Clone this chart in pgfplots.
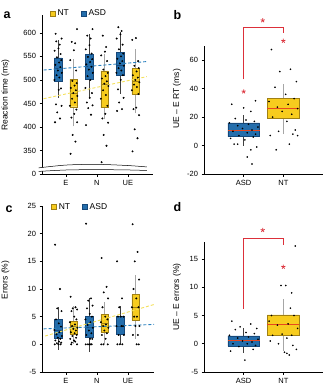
\documentclass[border=0pt]{standalone}
\usepackage{pgfplots}
\pgfplotsset{compat=1.18}
\usepackage{fontspec}
\setmainfont{Liberation Sans}
\definecolor{asd}{RGB}{36,110,172}
\definecolor{asdd}{RGB}{22,72,122}
\definecolor{nt}{RGB}{247,204,30}
\definecolor{ntd}{RGB}{160,128,20}
\definecolor{med}{RGB}{232,72,30}
\definecolor{sig}{RGB}{220,48,58}
\definecolor{asdl}{RGB}{40,128,190}
\definecolor{ntl}{RGB}{244,224,90}
\newcommand{\tfont}{\fontsize{7.5}{8.5}\selectfont}
\newcommand{\lfont}{\fontsize{8.5}{9.5}\selectfont}
\pgfplotsset{
  base/.style={scale only axis, axis lines=left, axis line style={-, line width=0.6pt},
    tick align=outside, major tick length=2.5pt, tick style={black, line width=0.5pt},
    ticklabel style={font=\tfont}, /pgf/number format/assume math mode=true,
    clip=false, anchor=south west},
  pts/.style={only marks, mark=*, mark size=0.75pt, black},
  ptsb/.style={only marks, mark=*, mark size=0.6pt, black},
  Abox/.style={fill=asd, draw=asdd, line width=0.4pt},
  Amed/.style={asdd, line width=0.5pt},
  Awh/.style={black!75, line width=0.6pt},
  Nbox/.style={fill=nt, draw=ntd, line width=0.4pt},
  Nmed/.style={ntd, line width=0.5pt},
  Nwh/.style={black!35, line width=1pt},
  Abbox/.style={fill=asd, draw=asdd, line width=0.5pt},
  Abmed/.style={med, line width=1pt},
  Abwh/.style={black!75, line width=0.6pt},
  Nbbox/.style={fill=nt, draw=ntd, line width=0.5pt},
  Nbmed/.style={med, line width=1pt},
  Nbwh/.style={black!35, line width=1pt},
  legsq/.style={legend image code/.code={\draw[##1, line width=0.4pt] (0pt,-2.6pt) rectangle (5.2pt,2.6pt);},
     legend style={draw=none, fill=none, legend columns=2, font=\lfont, inner sep=0pt,
       /tikz/every even column/.append style={column sep=10pt}}},
}
% #1 style prefix, #2 centre, #3 left, #4 right, #5 lower whisker, #6 Q1, #7 median, #8 Q3, #9 upper whisker
\newcommand{\bx}[9]{%
  \addplot[#1wh] coordinates {(#2,#5) (#2,#6)};
  \addplot[#1wh] coordinates {(#2,#8) (#2,#9)};
  \addplot[#1box] coordinates {(#3,#6) (#4,#6) (#4,#8) (#3,#8) (#3,#6)};
  \addplot[#1med] coordinates {(#3,#7) (#4,#7)};
}
\begin{document}
\begin{tikzpicture}
\path[use as bounding box] (0,0) rectangle (326pt,-387pt);

% ---------------- panel a ----------------
\begin{axis}[base, at={(42pt,-174pt)}, width=111pt, height=159pt,
  xmin=0.23, xmax=3.81, ymin=300, ymax=638,
  xtick={1,2,3}, xticklabels={E,N,UE},
  ytick={300,350,400,450,500,550,600}, yticklabels={0,350,400,450,500,550,600},
  legsq, legend style={at={(axis description cs:0.07,1.01)}, anchor=west}]
\addlegendimage{fill=nt, draw=ntd}
\addlegendimage{fill=asd, draw=asdd}
\legend{NT,ASD}
\bx{A}{0.75}{0.63}{0.87}{462}{498}{525}{547}{585}
\bx{N}{1.25}{1.13}{1.37}{401}{443}{472}{501}{544}
\bx{A}{1.75}{1.63}{1.87}{461}{502}{530}{554}{598}
\bx{N}{2.25}{2.13}{2.37}{416}{441}{490}{519}{556}
\bx{A}{2.75}{2.63}{2.87}{471}{510}{532}{558}{602}
\bx{N}{3.25}{3.13}{3.37}{429}{470}{497}{524}{565}
\addplot[asdl, line width=0.9pt, dash pattern=on 3pt off 2pt] coordinates {(0.28,521) (3.61,539)};
\addplot[ntl, line width=0.9pt, dash pattern=on 3pt off 2pt] coordinates {(0.28,460) (3.61,507)};
\addplot[pts] table[row sep=\\, x expr=0.75+\thisrow{j}, y=v] {j v\\ -0.10 410\\ 0.06 418\\ -0.03 431\\ 0.11 445\\ -0.07 448\\ 0.02 479\\ 0.09 482\\ -0.12 500\\ 0.04 505\\ -0.05 510\\ 0.12 515\\ -0.01 520\\ 0.07 527\\ -0.09 532\\ 0.03 537\\ 0.10 542\\ -0.04 548\\ 0.08 555\\ -0.11 562\\ 0.01 567\\ 0.05 575\\ -0.06 582\\ 0.11 588\\ -0.08 598\\};
\addplot[pts] table[row sep=\\, x expr=1.25+\thisrow{j}, y=v] {j v\\ -0.10 343\\ 0.06 369\\ -0.03 383\\ 0.11 410\\ -0.07 420\\ 0.02 428\\ 0.09 437\\ -0.12 445\\ 0.04 452\\ -0.05 460\\ 0.12 466\\ -0.01 472\\ 0.07 478\\ -0.09 483\\ 0.03 488\\ 0.10 493\\ -0.04 498\\ 0.08 520\\ -0.11 542\\ 0.01 563\\ 0.05 578\\ -0.06 581\\ 0.11 608\\};
\addplot[pts] table[row sep=\\, x expr=1.75+\thisrow{j}, y=v] {j v\\ -0.10 404\\ 0.06 426\\ -0.03 440\\ 0.11 446\\ -0.07 452\\ 0.02 462\\ 0.09 472\\ -0.12 483\\ 0.04 500\\ -0.05 508\\ 0.12 515\\ -0.01 522\\ 0.07 528\\ -0.09 533\\ 0.03 538\\ 0.10 544\\ -0.04 549\\ 0.08 556\\ -0.11 565\\ 0.01 574\\ 0.05 588\\ -0.06 594\\ 0.11 608\\};
\addplot[pts] table[row sep=\\, x expr=2.25+\thisrow{j}, y=v] {j v\\ -0.10 325\\ 0.06 360\\ -0.03 383\\ 0.11 409\\ -0.07 418\\ 0.02 428\\ 0.09 445\\ -0.12 460\\ 0.04 468\\ -0.05 478\\ 0.12 487\\ -0.01 492\\ 0.07 497\\ -0.09 503\\ 0.03 508\\ 0.10 515\\ -0.04 522\\ 0.08 540\\ -0.11 552\\ 0.01 560\\ 0.05 570\\ -0.06 594\\};
\addplot[pts] table[row sep=\\, x expr=2.75+\thisrow{j}, y=v] {j v\\ -0.10 434\\ 0.06 438\\ -0.03 452\\ 0.11 462\\ -0.07 480\\ 0.02 500\\ 0.09 510\\ -0.12 515\\ 0.04 520\\ -0.05 525\\ 0.12 530\\ -0.01 535\\ 0.07 540\\ -0.09 545\\ 0.03 550\\ 0.10 556\\ -0.04 565\\ 0.08 575\\ -0.11 588\\ 0.01 597\\ 0.05 604\\ -0.06 612\\};
\addplot[pts] table[row sep=\\, x expr=3.25+\thisrow{j}, y=v] {j v\\ -0.10 348\\ 0.06 376\\ -0.03 395\\ 0.11 425\\ -0.07 438\\ 0.02 441\\ 0.09 470\\ -0.12 478\\ 0.04 485\\ -0.05 490\\ 0.12 495\\ -0.01 500\\ 0.07 505\\ -0.09 510\\ 0.03 518\\ 0.10 525\\ -0.04 530\\ 0.08 540\\ -0.11 585\\ 0.01 589\\};
% axis break (decoration)
\addplot[fill=white, draw=none] coordinates {(0.12,313) (1.0,319) (2.0,320.5) (3.0,318) (3.61,315) (3.61,307.5) (3.0,308.6) (2.0,309.3) (1.0,308.5) (0.12,305.5) (0.12,313)};
\addplot[black, line width=0.5pt, smooth] coordinates {(0.12,313) (1.0,319) (2.0,320.5) (3.0,318) (3.61,315)};
\addplot[black, line width=0.5pt, smooth] coordinates {(0.12,305.5) (1.0,308.5) (2.0,309.3) (3.0,308.6) (3.61,307.5)};
\end{axis}

% ---------------- panel b ----------------
\begin{axis}[base, at={(204pt,-174pt)}, width=119pt, height=128pt,
  xmin=0, xmax=3, ymin=-20, ymax=70,
  xtick={1,2}, xticklabels={ASD,NT}, ytick={-20,0,20,40,60}]
\bx{Ab}{1}{0.6}{1.4}{0}{6.3}{10.5}{16}{21.7}
\bx{Nb}{2}{1.6}{2.4}{8}{19}{26}{33}{43}
\addplot[ptsb] table[row sep=\\, x expr=1+3*\thisrow{j}, y=v] {j v\\ -0.10 29\\ 0.00 26.5\\ 0.10 31.5\\ 0.06 24\\ -0.07 19\\ 0.02 18\\ 0.09 17\\ -0.12 16\\ 0.04 15\\ -0.05 14\\ 0.12 13\\ -0.01 12\\ 0.07 11\\ -0.09 10\\ 0.03 9\\ 0.10 8\\ -0.04 7\\ 0.08 6\\ -0.11 5\\ 0.01 4\\ -0.08 1\\ -0.05 1\\ 0.11 -1\\ 0.06 -3\\ 0.03 -8\\ 0.07 -13\\};
\addplot[ptsb] table[row sep=\\, x expr=2+3*\thisrow{j}, y=v] {j v\\ -0.10 67.5\\ 0.06 53.6\\ -0.03 52\\ 0.11 45\\ -0.07 41\\ 0.02 36\\ 0.09 33\\ -0.12 31\\ 0.04 29\\ -0.05 27\\ 0.12 26\\ -0.01 24\\ 0.07 22\\ -0.09 20\\ 0.03 17\\ 0.10 11\\ -0.04 10\\ 0.08 8\\ -0.11 7\\ 0.12 7\\ 0.05 1\\ -0.06 -3\\};
\addplot[sig, line width=0.7pt] coordinates {(1,46.5) (1,83.3) (2,83.3) (2,79.3)};
\addplot[sig, only marks, mark=star, mark size=2.2pt, mark options={line width=0.7pt}] coordinates {(1.48,88) (1,38) (2,73.6)};
\end{axis}

% ---------------- panel c ----------------
\begin{axis}[base, at={(42pt,-372pt)}, width=112pt, height=166pt,
  xmin=0.23, xmax=3.84, ymin=-5, ymax=25,
  xtick={1,2,3}, xticklabels={E,N,UE}, ytick={-5,0,5,10,15,20,25},
  legsq, legend style={at={(axis description cs:0.08,0.995)}, anchor=west}]
\addlegendimage{fill=nt, draw=ntd}
\addlegendimage{fill=asd, draw=asdd}
\legend{NT,ASD}
\bx{A}{0.75}{0.63}{0.87}{-1}{1.15}{2.5}{4.5}{6.7}
\bx{N}{1.25}{1.13}{1.37}{0.1}{1.8}{3.3}{4.2}{7}
\bx{A}{1.75}{1.63}{1.87}{-1.4}{1.2}{3}{5.1}{8.3}
\bx{N}{2.25}{2.13}{2.37}{0}{2.2}{3.9}{5.4}{7.6}
\bx{A}{2.75}{2.63}{2.87}{0}{1.9}{3.3}{5}{7}
\bx{N}{3.25}{3.13}{3.37}{1}{4.4}{6.7}{9}{12.5}
\addplot[asdl, line width=0.9pt, dash pattern=on 3pt off 2pt] coordinates {(0.28,2.8) (3.84,3.6)};
\addplot[ntl, line width=0.9pt, dash pattern=on 3pt off 2pt] coordinates {(0.33,1.5) (3.84,7.2)};
\addplot[pts] table[row sep=\\, x expr=0.75+\thisrow{j}, y=v] {j v\\ -0.10 18\\ 0.06 10\\ -0.03 6.5\\ 0.11 6\\ -0.07 4.5\\ 0.02 3.8\\ 0.09 3.2\\ -0.12 2.6\\ 0.04 2.2\\ -0.05 1.8\\ 0.12 1.5\\ -0.01 1.2\\ 0.07 1\\ -0.09 0.7\\ 0.03 0.5\\ 0.10 0.3\\ -0.04 0.2\\ 0.08 0\\ -0.11 0\\ 0.01 0\\};
\addplot[pts] table[row sep=\\, x expr=1.25+\thisrow{j}, y=v] {j v\\ -0.10 8.6\\ 0.06 6.7\\ -0.03 6.5\\ 0.11 6.3\\ -0.07 6\\ 0.02 5\\ 0.09 4.5\\ -0.12 4\\ 0.04 3.6\\ -0.05 3.3\\ 0.12 3\\ -0.01 2.8\\ 0.07 2.5\\ -0.09 2.2\\ 0.03 2\\ 0.10 1.7\\ -0.04 1.5\\ 0.08 1.2\\ -0.11 1\\ 0.01 0.7\\ 0.05 0.5\\ -0.06 0.3\\ 0.11 0\\ -0.08 0\\};
\addplot[pts] table[row sep=\\, x expr=1.75+\thisrow{j}, y=v] {j v\\ -0.10 21.8\\ 0.06 8.3\\ -0.03 7.9\\ 0.11 7\\ -0.07 6.5\\ 0.02 5.5\\ 0.09 5\\ -0.12 4.5\\ 0.04 4\\ -0.05 3.5\\ 0.12 3\\ -0.01 2.5\\ 0.07 2\\ -0.09 1.7\\ 0.03 1\\ 0.10 1\\ -0.04 0\\ 0.08 0\\ -0.11 0\\ 0.01 0\\ 0.05 0\\};
\addplot[pts] table[row sep=\\, x expr=2.25+\thisrow{j}, y=v] {j v\\ -0.10 15.6\\ 0.06 10.4\\ -0.03 9.4\\ 0.11 8.3\\ -0.07 6.7\\ 0.02 5\\ 0.09 4.5\\ -0.12 4\\ 0.04 3.6\\ -0.05 3.3\\ 0.12 3\\ -0.01 2.5\\ 0.07 2\\ -0.09 1.7\\ 0.03 1\\ 0.10 0\\ -0.04 0\\ -0.11 0\\};
\addplot[pts] table[row sep=\\, x expr=2.75+\thisrow{j}, y=v] {j v\\ -0.10 15\\ 0.06 8.3\\ -0.03 6.7\\ 0.11 5\\ -0.07 5\\ 0.02 5\\ 0.09 3.3\\ -0.12 3.3\\ 0.04 3.3\\ -0.05 1.7\\ 0.12 1.7\\ -0.01 0\\ 0.07 0\\ -0.09 0\\};
\addplot[pts] table[row sep=\\, x expr=3.25+\thisrow{j}, y=v] {j v\\ -0.10 21.7\\ 0.06 16.7\\ -0.03 15\\ 0.11 11.7\\ -0.07 10\\ 0.02 8.3\\ 0.09 6.7\\ -0.12 6.7\\ 0.04 5\\ -0.05 5\\ 0.12 3.3\\ -0.01 3.3\\ 0.07 1.7\\ -0.09 1.7\\ 0.03 0\\ 0.10 0\\};
\end{axis}

% ---------------- panel d ----------------
\begin{axis}[base, at={(204pt,-372pt)}, width=119pt, height=130pt,
  xmin=0, xmax=3, ymin=-5, ymax=18,
  xtick={1,2}, xticklabels={ASD,NT}, ytick={-5,0,5,10,15}]
\bx{Ab}{1}{0.6}{1.4}{-1.6}{-0.4}{0.6}{1.4}{2.8}
\bx{Nb}{2}{1.6}{2.4}{-1.2}{1.45}{3.35}{5.1}{7.9}
\addplot[ptsb] table[row sep=\\, x expr=1+3*\thisrow{j}, y=v] {j v\\ -0.10 4\\ 0.06 3.5\\ -0.03 3\\ 0.11 2.7\\ -0.07 2.5\\ 0.02 2\\ 0.09 1.8\\ -0.12 1.5\\ 0.04 1.2\\ -0.05 1\\ 0.12 0.8\\ -0.01 0.5\\ 0.07 0.3\\ -0.09 0\\ 0.03 0\\ 0.10 -0.3\\ -0.04 -0.5\\ 0.08 -1\\ -0.11 -1.3\\ 0.01 -2.9\\};
\addplot[ptsb] table[row sep=\\, x expr=2+3*\thisrow{j}, y=v] {j v\\ 0.10 17.3\\ -0.02 10.3\\ 0.02 10.3\\ 0.07 9\\ 0.06 6.3\\ 0.09 5\\ -0.10 5\\ -0.12 4\\ 0.04 3.5\\ -0.05 3.3\\ 0.12 2.7\\ -0.01 1.7\\ 0.07 1.5\\ -0.09 1.5\\ 0.03 1\\ -0.11 0.5\\ -0.04 0\\ 0.08 -0.3\\ 0.11 -1\\ 0.01 -1.5\\ 0.05 -2\\ 0.03 -1.7\\};
\addplot[sig, line width=0.7pt] coordinates {(1,6.2) (1,18.6) (2,18.6) (2,17.5)};
\addplot[sig, only marks, mark=star, mark size=2.2pt, mark options={line width=0.7pt}] coordinates {(1.48,20.1) (2,13.6)};
\end{axis}

% labels
\node[rotate=90, font=\lfont] at (5.5pt,-95pt) {Reaction time (ms)};
\node[rotate=90, font=\lfont] at (5.5pt,-280pt) {Errors (\%)};
\node[rotate=90, font=\lfont] at (177pt,-99pt) {UE \textendash{} E RT (ms)};
\node[rotate=90, font=\lfont] at (177pt,-297pt) {UE \textendash{} E errors (\%)};
\node[font=\bfseries\fontsize{12.5}{13}\selectfont] at (7pt,-15pt) {a};
\node[font=\bfseries\fontsize{12.5}{13}\selectfont] at (177.5pt,-15pt) {b};
\node[font=\bfseries\fontsize{12.5}{13}\selectfont] at (9pt,-209pt) {c};
\node[font=\bfseries\fontsize{12.5}{13}\selectfont] at (177.5pt,-207pt) {d};
\end{tikzpicture}
\end{document}
